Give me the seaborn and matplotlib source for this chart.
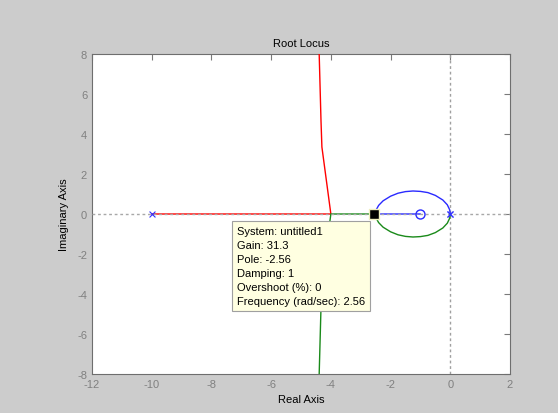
import matplotlib
matplotlib.use("Agg")
import matplotlib.pyplot as plt
import seaborn as sns
import pandas as pd

# ---- data ----
pole_re = [-10.0, 0.0, 0.0]
pole_im = [0.0, 0.0, 0.0]
zero_re = [-1.0]
zero_im = [0.0]

# complex loop between 0 and the break-in point (upper half)
loop_re = [0.0, -0.02, -0.1, -0.25, -0.5, -0.75, -1.0, -1.25, -1.5, -1.75, -2.0, -2.25, -2.4, -2.47, -2.5]
loop_im = [0.0, 0.21, 0.46, 0.70, 0.93, 1.07, 1.13, 1.15, 1.12, 1.04, 0.89, 0.66, 0.43, 0.24, 0.0]

# branch leaving the real axis at -4 (upper half)
asym_re = [-4.0, -4.3, -4.33, -4.37, -4.40]
asym_im = [0.0, 3.35, 4.65, 6.85, 8.5]

tip_re, tip_im = -2.56, 0.0
tip_lines = ["System: untitled1", "Gain: 31.3", "Pole: -2.56", "Damping: 1",
             "Overshoot (%): 0", "Frequency (rad/sec): 2.56"]

xticks = [-12, -10, -8, -6, -4, -2, 0, 2]
yticks = [-8, -6, -4, -2, 0, 2, 4, 6, 8]

# ---- build branches ----
red_re = [-10.0, -5.0] + asym_re
red_im = [0.0, 0.0] + asym_im
green_re = loop_re + asym_re
green_im = [-v for v in loop_im] + [-v for v in asym_im]
blue_re = loop_re + zero_re
blue_im = loop_im + zero_im

rows = []
for name, xs, ys in [("r", red_re, red_im), ("g", green_re, green_im), ("b", blue_re, blue_im)]:
    for i, (x, y) in enumerate(zip(xs, ys)):
        rows.append({"branch": name, "order": i, "re": x, "im": y})
df = pd.DataFrame(rows)

sns.set_style("white")
plt.rcParams["font.family"] = ["Liberation Sans", "DejaVu Sans"]

fig = plt.figure(figsize=(5.58, 4.14), dpi=100, facecolor="#cccccc")
ax = fig.add_axes([92 / 558, 1 - 375 / 414, (510 - 92) / 558, (375 - 55) / 414])
ax.set_facecolor("white")

sns.lineplot(data=df, x="re", y="im", hue="branch", sort=False, estimator=None,
             palette={"r": "#ff0000", "g": "#1a8a1a", "b": "#2a2aff"},
             linewidth=1.0, legend=False, ax=ax, zorder=3)

# zero lines (dotted)
ax.axhline(0, color="#a8a8a8", linestyle=(0, (2, 2)), linewidth=1.0, zorder=4)
ax.axvline(0, color="#a0a0a0", linestyle=(0, (2, 2)), linewidth=1.0, zorder=2)

sns.scatterplot(x=pole_re, y=pole_im, marker="x", color="#3030ff", s=18, linewidth=0.8,
                ax=ax, zorder=5)
ax.plot(zero_re, zero_im, marker="o", markersize=6.5, markerfacecolor="none",
        markeredgecolor="#2a2aff", markeredgewidth=1.0, linestyle="none", zorder=5)

# data tip
ax.plot([tip_re], [tip_im], marker="s", markersize=7, color="black", markeredgecolor="#f0f0c0",
        linestyle="none", zorder=6)
ax.annotate("\n".join(tip_lines), xy=(tip_re, tip_im), xytext=(-137, -12),
            textcoords="offset pixels", ha="left", va="top", fontsize=8, color="black",
            linespacing=1.5,
            bbox=dict(boxstyle="square,pad=0.45", facecolor="#ffffe1", edgecolor="#a0a0a0",
                      linewidth=0.8), zorder=7)

ax.set_xlim(-12, 2)
ax.set_ylim(-8, 8)
ax.set_xticks(xticks)
ax.set_yticks(yticks)
ax.set_xticklabels([str(t) for t in xticks])
ax.set_yticklabels([str(t) for t in yticks])
ax.tick_params(direction="in", length=4, width=0.8, colors="#7a7a7a", labelsize=8,
               top=True, right=True, labelcolor="#808080")
for s in ax.spines.values():
    s.set_visible(True)
    s.set_color("#6e6e6e")
    s.set_linewidth(0.8)

ax.set_title("Root Locus", fontsize=8, color="black", pad=6)
ax.set_xlabel("Real Axis", fontsize=8, color="black", labelpad=4)
ax.set_ylabel("Imaginary Axis", fontsize=8, color="black", labelpad=6)

fig.savefig("out.png", dpi=100, facecolor=fig.get_facecolor())
